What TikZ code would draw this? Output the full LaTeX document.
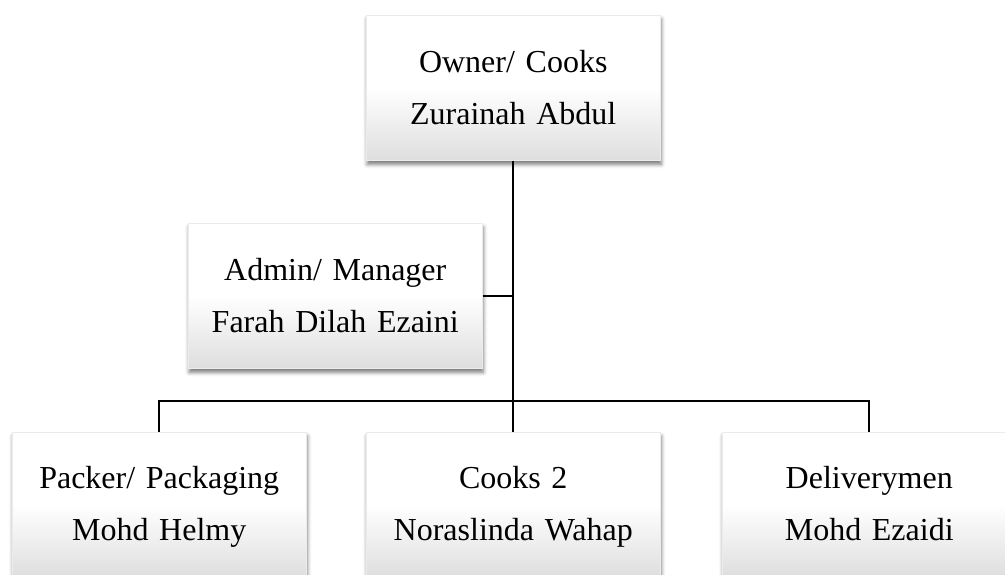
\documentclass[tikz,border=0pt]{standalone}
\usepackage{fontspec}
\setmainfont{Liberation Serif}
\usetikzlibrary{shadows,shadows.blur}

\pgfdeclareverticalshading{postfill}{100bp}{color(0bp)=(black!13); color(25bp)=(black!13);
    color(50bp)=(white); color(75bp)=(white); color(100bp)=(white)}

\newcommand*\boxwidth{294pt}
\newcommand*\boxheight{145pt}
\tikzset{post/.style={
    rectangle,
    draw=black!8,
    line width=0.5pt,
    shading=postfill,
    blur shadow={shadow xshift=1pt, shadow yshift=-4pt,
                 shadow blur radius=4pt, shadow opacity=55},
    anchor=north west,
    inner sep=0pt,
    text width=\boxwidth,
    text height=26pt,
    text depth=#1,
    minimum height=\boxheight,
    align=center,
    font=\fontsize{32}{52}\selectfont
}, post/.default=57pt}

\begin{document}
\begin{tikzpicture}[x=1pt,y=-1pt]

    \clip (0,0) rectangle (1005,574);

    % The owner on top, the admin beside the trunk.
    \node[post] (owner) at (366,15) {Owner/ Cooks\\Zurainah Abdul};
    \node[post] (admin) at (188,223) {Admin/ Manager\\Farah Dilah Ezaini};

    % Staff in the bottom row.
    \node[post=59pt] (packer) at (12,432) {Packer/ Packaging\\Mohd Helmy};
    \node[post=59pt] (cooks) at (366,432) {Cooks 2\\Noraslinda Wahap};
    \node[post=59pt] (delivery) at (722,432) {Deliverymen\\Mohd Ezaidi};

    % Draw the connectors.
    \coordinate (bar) at (owner.south |- 0,401);
    \begin{scope}[line width=2pt]
        \draw (owner.south) -- (bar);
        \draw (admin.east) -- (admin.east -| owner.south);
        \draw (packer.north) |- (bar) -| (delivery.north);
        \draw (bar) -- (cooks.north);
    \end{scope}

\end{tikzpicture}
\end{document}
